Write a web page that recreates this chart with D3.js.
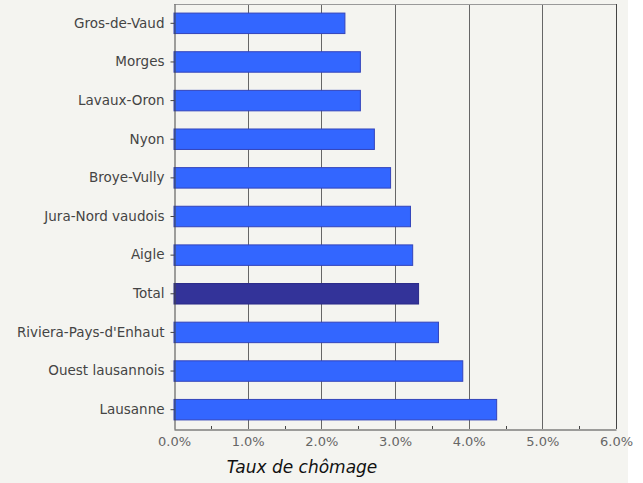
<!DOCTYPE html>
<html>
<head>
<meta charset="utf-8">
<script src="https://d3js.org/d3.v7.min.js"></script>
<style>
  body { margin: 0; background: #ffffff; }
  text { font-family: "DejaVu Sans", Verdana, sans-serif; }
</style>
</head>
<body>
<div id="chart"></div>
<script>
// regions, top to bottom
var regions = ['Gros-de-Vaud', 'Morges', 'Lavaux-Oron', 'Nyon', 'Broye-Vully', 'Jura-Nord vaudois',
               'Aigle', 'Total', "Riviera-Pays-d'Enhaut", 'Ouest lausannois', 'Lausanne'];
var rates = [2.32, 2.53, 2.53, 2.72, 2.94, 3.21, 3.24, 3.32, 3.59, 3.92, 4.38];
var xTicks = [0, 1, 2, 3, 4, 5, 6];

var W = 643, H = 483;
var plotLeft = 174, plotRight = 616, plotTop = 4, plotBottom = 429;

var svg = d3.select("#chart").append("svg")
    .attr("width", W).attr("height", H);

svg.append("rect")
   .attr("width", 628).attr("height", H)
   .attr("fill", "#f4f4f0");

var x = d3.scaleLinear().domain([0, 6]).range([plotLeft, plotRight]);
var y = d3.scaleBand().domain(regions).range([plotTop, plotBottom]).paddingInner(0.47).paddingOuter(0.235);

// gridlines
svg.append("g").selectAll("line")
   .data(xTicks.slice(1))
   .join("line")
   .attr("x1", d => Math.round(x(d)) + 0.5).attr("x2", d => Math.round(x(d)) + 0.5)
   .attr("y1", plotTop).attr("y2", plotBottom)
   .attr("stroke", "#666").attr("stroke-width", 1);

// top frame
svg.append("line")
   .attr("x1", plotLeft).attr("x2", plotRight + 0.5)
   .attr("y1", plotTop + 0.5).attr("y2", plotTop + 0.5)
   .attr("stroke", "#999");

// bars
svg.append("g").selectAll("rect")
   .data(regions)
   .join("rect")
   .attr("x", x(0))
   .attr("y", d => y(d))
   .attr("width", (d, i) => x(rates[i]) - x(0))
   .attr("height", y.bandwidth())
   .attr("fill", d => d == 'Total' ? "#333399" : "#3366ff")
   .attr("stroke", d => d == 'Total' ? "#2a2a88" : "#3344bb")
   .attr("stroke-width", 1);

// x axis
var xAxis = svg.append("g")
   .attr("transform", "translate(0," + (plotBottom + 0.5) + ")")
   .call(d3.axisBottom(x).tickValues(xTicks).tickSize(0).tickPadding(7)
           .tickFormat(d => d.toFixed(1) + "%"));
xAxis.select(".domain").attr("stroke", "#444");
xAxis.selectAll("text").attr("fill", "#666").attr("font-size", 13)
     .attr("font-family", "DejaVu Sans");

// minor ticks at half steps
svg.append("g").selectAll("line")
   .data([0.5, 1.5, 2.5, 3.5, 4.5, 5.5])
   .join("line")
   .attr("x1", d => Math.round(x(d)) + 0.5).attr("x2", d => Math.round(x(d)) + 0.5)
   .attr("y1", plotBottom - 3).attr("y2", plotBottom)
   .attr("stroke", "#444");

// y axis
var yAxis = svg.append("g")
   .attr("transform", "translate(" + (plotLeft + 0.5) + ",0)")
   .call(d3.axisLeft(y).tickSize(4).tickPadding(6).tickSizeOuter(0));
yAxis.select(".domain").attr("stroke", "#444");
yAxis.selectAll(".tick line").attr("stroke", "#444");
yAxis.selectAll("text").attr("fill", "#444").attr("font-size", 13.5)
     .attr("font-family", "DejaVu Sans");

// right frame
svg.append("line")
   .attr("x1", plotRight + 0.5).attr("x2", plotRight + 0.5)
   .attr("y1", plotTop).attr("y2", plotBottom)
   .attr("stroke", "#444");

svg.append("text")
   .attr("x", 302).attr("y", 473)
   .attr("text-anchor", "middle")
   .attr("font-size", 17)
   .attr("font-style", "italic")
   .attr("fill", "#111")
   .text("Taux de chômage");
</script>
</body>
</html>
